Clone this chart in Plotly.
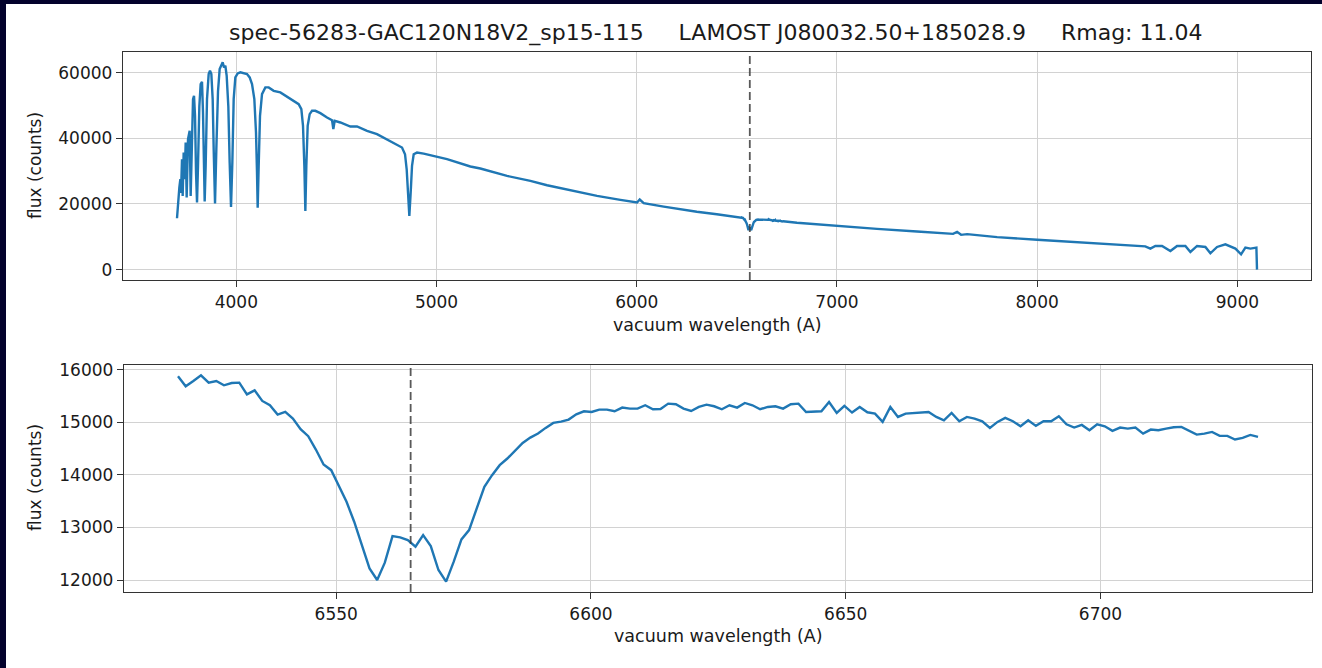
import plotly.graph_objects as go

W, H = 1322, 668

# ---------------------------------------------------------------------------
# Spectrum spec-56283-GAC120N18V2_sp15-115  (vacuum wavelength [A], flux [counts])
# ---------------------------------------------------------------------------

# blue part: high Balmer series up to the H-alpha window
wave_blue = [
    3703.6, 3710.3, 3715.3, 3720.3, 3723.6, 3728.6, 3731.9, 3736.9, 3741.9, 3746.9,
    3751.9, 3758.6, 3763.6, 3766.9, 3771.9, 3776.9, 3783.6, 3788.6, 3793.6, 3798.6,
    3803.6, 3808.5, 3815.2, 3821.8, 3828.5, 3833.5, 3838.5, 3841.8, 3846.8, 3853.5,
    3861.8, 3868.5, 3875.1, 3881.8, 3886.8, 3893.5, 3900.1, 3908.4, 3916.7, 3925.1,
    3931.7, 3938.4, 3945.1, 3951.7, 3960.0, 3966.7, 3973.4, 3980.0, 3986.7, 3995.0,
    4006.7, 4020.0, 4036.6, 4053.3, 4066.6, 4078.3, 4089.9, 4098.2, 4103.2, 4106.6,
    4111.6, 4118.2, 4128.2, 4144.9, 4161.5, 4186.5, 4219.8, 4253.1, 4286.4, 4311.3,
    4324.7, 4333.0, 4339.7, 4344.7, 4349.7, 4356.3, 4366.3, 4378.0, 4394.6, 4419.6,
    4452.9, 4477.9, 4484.5, 4491.2, 4519.5, 4569.4, 4602.7, 4652.7, 4702.6, 4735.9,
    4769.2, 4802.5, 4827.5, 4842.5, 4850.8, 4857.5, 4864.1, 4870.8, 4877.5, 4885.8,
    4902.4, 4935.7, 4985.7, 5010.6, 5052.3, 5168.8, 5218.8, 5352.0, 5468.6, 5551.9,
    5685.1, 5801.6, 5918.2, 6001.5, 6014.8, 6034.8, 6134.7, 6217.9, 6300.0, 6400.0,
    6470.0, 6510.0,
]
flux_blue = [
    15650, 22450, 25000, 27540, 23330, 33640, 22450, 35680, 27540, 38730,
    21960, 39740, 41300, 42270, 22450, 36700, 51940, 52950, 46850, 29580,
    20430, 31620, 49740, 56520, 57190, 47760, 27540, 20740, 31620, 51940,
    59570, 60580, 59570, 51940, 36700, 20130, 36700, 54270, 61090, 62620,
    63130, 61600, 62110, 59060, 49740, 32630, 19090, 32630, 51940, 58550,
    59770, 60090, 59880, 59570, 58550, 56520, 51940, 41770, 29580, 18890,
    31620, 46850, 53460, 55500, 55500, 54470, 53970, 52750, 51430, 50400,
    48870, 43790, 31620, 17870, 31620, 43790, 47350, 48370, 48370, 47660,
    46340, 45530, 42780, 45330, 44820, 43600, 43600, 42270, 41260, 40240,
    39220, 38200, 37180, 35150, 30570, 23450, 16350, 23450, 31620, 35150,
    35660, 35350, 34640, 34160, 33640, 31410, 30800, 28550, 27030, 25710,
    23980, 22450, 21230, 20430, 21350, 20230, 19210, 18390, 17650, 16850,
    16300, 15950,
]

# H-alpha window (native sampling)
wave_ha = [
    6518.95, 6520.46, 6521.96, 6523.46, 6524.97, 6526.47, 6527.97, 6529.48, 6530.98, 6532.48,
    6533.99, 6535.49, 6536.99, 6538.50, 6540.00, 6541.50, 6543.01, 6544.51, 6546.01, 6547.52,
    6549.02, 6550.52, 6552.03, 6553.53, 6555.03, 6556.54, 6558.04, 6559.54, 6561.05, 6562.55,
    6564.05, 6565.56, 6567.06, 6568.56, 6570.07, 6571.57, 6573.07, 6574.58, 6576.08, 6577.58,
    6579.08, 6580.59, 6582.09, 6583.59, 6585.10, 6586.60, 6588.10, 6589.61, 6591.11, 6592.61,
    6594.12, 6595.62, 6597.12, 6598.63, 6600.13, 6601.63, 6603.14, 6604.64, 6606.14, 6607.65,
    6609.15, 6610.65, 6612.16, 6613.66, 6615.16, 6616.67, 6618.17, 6619.67, 6621.18, 6622.68,
    6624.18, 6625.69, 6627.19, 6628.69, 6630.20, 6631.70, 6633.20, 6634.71, 6636.21, 6637.71,
    6639.22, 6640.72, 6642.22, 6643.73, 6645.23, 6646.73, 6648.24, 6649.74, 6651.24, 6652.75,
    6654.25, 6655.75, 6657.25, 6658.76, 6660.26, 6661.76, 6663.27, 6664.77, 6666.27, 6667.78,
    6669.28, 6670.78, 6672.29, 6673.79, 6675.29, 6676.80, 6678.30, 6679.80, 6681.31, 6682.81,
    6684.31, 6685.82, 6687.32, 6688.82, 6690.33, 6691.83, 6693.33, 6694.84, 6696.34, 6697.84,
    6699.35, 6700.85, 6702.35, 6703.86, 6705.36, 6706.86, 6708.37, 6709.87, 6711.37, 6712.88,
    6714.38, 6715.88, 6717.39, 6718.89, 6720.39, 6721.90, 6723.40, 6724.90, 6726.41, 6727.91,
    6729.41, 6730.92,
]
flux_ha = [
    15873, 15683, 15784, 15892, 15753, 15784, 15702, 15746, 15753, 15531,
    15607, 15405, 15323, 15146, 15196, 15070, 14867, 14735, 14482, 14197,
    14090, 13805, 13489, 13110, 12667, 12224, 12003, 12332, 12838, 12812,
    12762, 12635, 12857, 12648, 12193, 11971, 12351, 12775, 12952, 13363,
    13773, 13995, 14185, 14311, 14469, 14608, 14709, 14785, 14893, 14988,
    15013, 15051, 15152, 15209, 15196, 15241, 15241, 15209, 15279, 15260,
    15260, 15323, 15247, 15253, 15354, 15342, 15260, 15215, 15291, 15335,
    15304, 15247, 15323, 15279, 15367, 15323, 15247, 15291, 15304, 15260,
    15342, 15354, 15196, 15209, 15209, 15386, 15177, 15310, 15184, 15291,
    15190, 15165, 15007, 15291, 15101, 15165, 15177, 15177, 15196, 15101,
    15038, 15177, 15019, 15101, 15070, 15019, 14893, 15007, 15082, 15019,
    14924, 15038, 14931, 15019, 15019, 15114, 14962, 14899, 14950, 14849,
    14962, 14924, 14836, 14899, 14880, 14899, 14785, 14861, 14849, 14880,
    14905, 14912, 14836, 14766, 14785, 14817, 14741, 14741, 14672, 14703,
    14760, 14722,
]

# red part: continuum and the far-red wiggles up to the detector edge
wave_red = [
    6800.0, 6900.0, 7000.0, 7200.0, 7400.0, 7580.0, 7600.0, 7620.0, 7650.0, 7800.0,
    8000.0, 8200.0, 8400.0, 8500.0, 8540.0, 8565.4, 8590.4, 8623.7, 8665.4, 8698.7,
    8740.3, 8765.3, 8798.6, 8840.2, 8865.2, 8898.5, 8940.1, 8990.1, 9018.4, 9040.0,
    9065.0, 9095.0, 9098.0,
]
flux_red = [
    14300, 13800, 13300, 12400, 11600, 10900, 11500, 10600, 10800, 9900,
    9100, 8400, 7700, 7400, 7100, 6400, 7210, 7210, 5680, 7210,
    7210, 5380, 7210, 6900, 4970, 6900, 7720, 6400, 4670, 6700,
    6400, 6700, 0,
]

HALPHA = 6564.61  # vacuum H-alpha

TITLE = ("spec-56283-GAC120N18V2_sp15-115\u00a0\u00a0\u00a0\u00a0\u00a0"
         "LAMOST J080032.50+185028.9\u00a0\u00a0\u00a0\u00a0\u00a0Rmag: 11.04")

wave_all = wave_blue + wave_ha + wave_red
flux_all = flux_blue + flux_ha + flux_red


def padded(vals, frac=0.05):
    lo, hi = min(vals), max(vals)
    d = (hi - lo) * frac
    return [lo - d, hi + d]


def fx(px):
    return px / W


def fy(py):
    return 1 - py / H


LINE = "#1f77b4"
FONT = "DejaVu Sans"
TXT = "#1a1a1a"
FRAME = "#03022c"

fig = go.Figure()
fig.add_trace(go.Scatter(x=wave_all, y=flux_all, mode="lines",
                         line=dict(color=LINE, width=2.4), xaxis="x", yaxis="y",
                         showlegend=False, hoverinfo="skip"))
fig.add_trace(go.Scatter(x=wave_ha, y=flux_ha, mode="lines",
                         line=dict(color=LINE, width=2.4), xaxis="x2", yaxis="y2",
                         showlegend=False, hoverinfo="skip"))

axis_common = dict(
    showline=True, mirror=True, linecolor="#333333", linewidth=1.4,
    ticks="outside", ticklen=6, tickwidth=1.3, tickcolor="#333333",
    showgrid=True, gridcolor="#d2d2d2", gridwidth=1.3, zeroline=False,
    tickformat="d", automargin=False,
    tickfont=dict(family=FONT, size=17, color=TXT),
)

fig.update_layout(
    width=W, height=H,
    margin=dict(l=0, r=0, t=0, b=0, pad=0, autoexpand=False),
    paper_bgcolor="white",
    plot_bgcolor="white",
    showlegend=False,
    xaxis=dict(domain=[fx(123), fx(1311)], range=padded(wave_all), anchor="y",
               tickvals=[4000, 5000, 6000, 7000, 8000, 9000], **axis_common),
    yaxis=dict(domain=[fy(280), fy(52)], range=padded(flux_all), anchor="x",
               tickvals=[0, 20000, 40000, 60000], **axis_common),
    xaxis2=dict(domain=[fx(124), fx(1312)], range=padded(wave_ha), anchor="y2",
                tickvals=[6550, 6600, 6650, 6700], **axis_common),
    yaxis2=dict(domain=[fy(592), fy(365)], range=padded(flux_ha), anchor="x2",
                tickvals=[12000, 13000, 14000, 15000, 16000], **axis_common),
    shapes=[
        # dark frame strips along the left and top edges
        dict(type="rect", xref="paper", yref="paper",
             x0=0, x1=fx(6), y0=0, y1=1,
             fillcolor=FRAME, line=dict(width=0), layer="below"),
        dict(type="rect", xref="paper", yref="paper",
             x0=0, x1=1, y0=fy(4), y1=1,
             fillcolor=FRAME, line=dict(width=0), layer="below"),
        # H-alpha markers
        dict(type="line", xref="x", yref="y domain", x0=HALPHA, x1=HALPHA, y0=0, y1=1,
             line=dict(color="rgba(60,60,60,0.85)", width=1.8, dash="8px,4px")),
        dict(type="line", xref="x2", yref="y2 domain", x0=HALPHA, x1=HALPHA, y0=0, y1=1,
             line=dict(color="rgba(60,60,60,0.85)", width=1.8, dash="8px,4px")),
    ],
    annotations=[
        dict(text=TITLE, xref="paper", yref="paper", x=fx(716), y=fy(33),
             xanchor="center", yanchor="middle", showarrow=False,
             font=dict(family=FONT, size=22, color=TXT)),
        dict(text="vacuum wavelength (A)", xref="paper", yref="paper", x=fx(717), y=fy(325),
             xanchor="center", yanchor="middle", showarrow=False,
             font=dict(family=FONT, size=17.5, color=TXT)),
        dict(text="vacuum wavelength (A)", xref="paper", yref="paper", x=fx(718), y=fy(636),
             xanchor="center", yanchor="middle", showarrow=False,
             font=dict(family=FONT, size=17.5, color=TXT)),
        dict(text="flux (counts)", xref="paper", yref="paper", x=fx(35), y=fy(166),
             xanchor="center", yanchor="middle", showarrow=False, textangle=-90,
             font=dict(family=FONT, size=17, color=TXT)),
        dict(text="flux (counts)", xref="paper", yref="paper", x=fx(35), y=fy(478),
             xanchor="center", yanchor="middle", showarrow=False, textangle=-90,
             font=dict(family=FONT, size=17, color=TXT)),
    ],
)

fig.write_html("out.html")
